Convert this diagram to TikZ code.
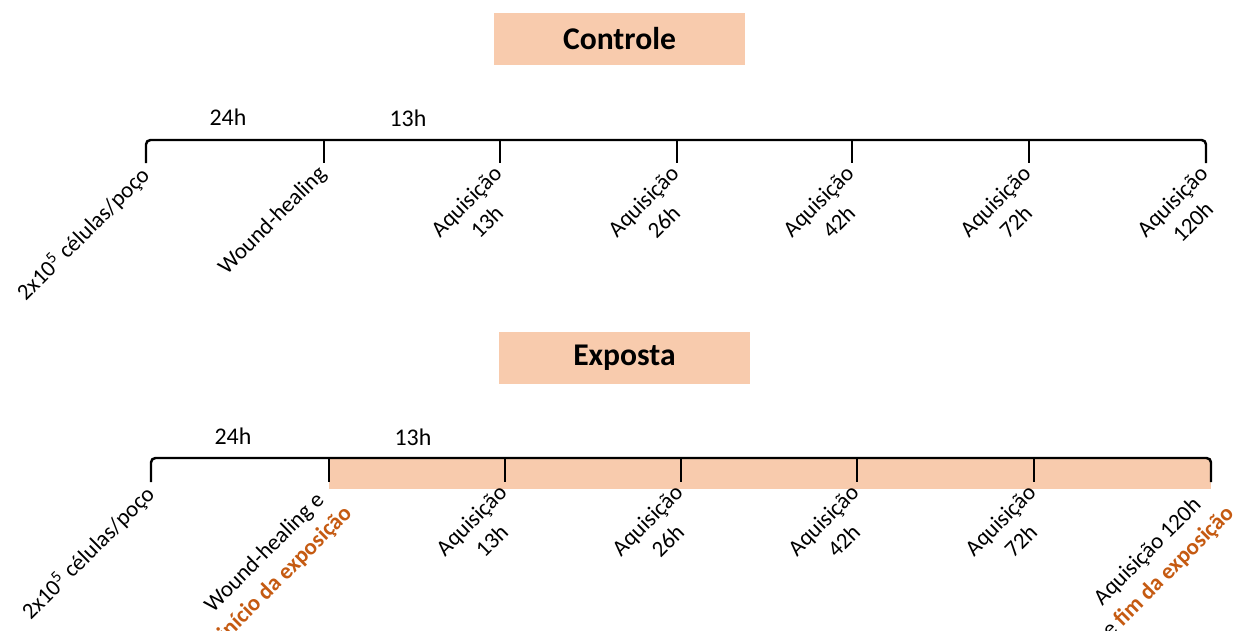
\documentclass[tikz,border=0pt]{standalone}
\usepackage{fontspec}
\setmainfont{Carlito}
\usetikzlibrary{positioning}
\definecolor{pessego}{HTML}{F8CBAD}
\definecolor{laranja}{HTML}{C55A11}

\begin{document}
\begin{tikzpicture}[x=0.02cm, y=-0.02cm,
  linha/.style={line width=1.4pt, rounded corners=2.5pt},
  marca/.style={line width=1.3pt},
  titulo/.style={fill=pessego, minimum width=5.02cm, minimum height=1.04cm,
    font=\fontsize{18}{20}\selectfont\bfseries},
  tempo/.style={font=\fontsize{13.6}{16}\selectfont},
  rotulo/.style={rotate=45, anchor=north east, align=center, inner sep=1pt,
    font=\fontsize{13}{16.5}\selectfont}]
  \useasboundingbox (0,0) rectangle (1244,630);

  % Controle
  \node[titulo] (tcontrole) at (619.5,39) {Controle};
  \foreach \i/\x in {0/146,1/324,2/500,3/677,4/852,5/1029,6/1206}{
    \coordinate (c\i) at (\x,140);
    \coordinate (cb\i) at (\x,163);
    \coordinate (cr\i) at (\x-8,161);
  }
  \draw[linha] (cb0) -- (c0) -- (c6) -- (cb6);
  \foreach \i in {1,...,5} \draw[marca] (c\i) -- (cb\i);
  \node[tempo] (c24) at (228,117) {24h};
  \node[tempo] (c13) at (408,118) {13h};
  \node[rotulo] (cl0) at (cr0) {2x10\textsuperscript{5} células/poço};
  \node[rotulo] (cl1) at (cr1) {Wound-healing};
  \node[rotulo] (cl2) at (cr2) {Aquisição\\13h};
  \node[rotulo] (cl3) at (cr3) {Aquisição\\26h};
  \node[rotulo] (cl4) at (cr4) {Aquisição\\42h};
  \node[rotulo] (cl5) at (cr5) {Aquisição\\72h};
  \node[rotulo] (cl6) at (cr6) {Aquisição\\120h};

  % Exposta
  \node[titulo] (texposta) at (624.5,358) {Exposta};
  \foreach \i/\x in {0/151,1/329,2/505,3/681,4/857,5/1034,6/1211}{
    \coordinate (e\i) at (\x,458);
    \coordinate (eb\i) at (\x,482);
    \coordinate (er\i) at (\x-8,480);
  }
  \coordinate (efim) at (1211,489);
  \fill[pessego] (e1) rectangle (efim);
  \draw[linha] (eb0) -- (e0) -- (e6) -- (eb6);
  \foreach \i in {1,...,5} \draw[marca] (e\i) -- (eb\i);
  \node[tempo] (e24) at (233,436) {24h};
  \node[tempo] (e13) at (413,437) {13h};
  \node[rotulo] (el0) at (er0) {2x10\textsuperscript{5} células/poço};
  \node[rotulo] (el1) at (er1) {Wound-healing e\\\textcolor{laranja}{\bfseries início da exposição}};
  \node[rotulo] (el2) at (er2) {Aquisição\\13h};
  \node[rotulo] (el3) at (er3) {Aquisição\\26h};
  \node[rotulo] (el4) at (er4) {Aquisição\\42h};
  \node[rotulo] (el5) at (er5) {Aquisição\\72h};
  \node[rotulo] (el6) at (er6) {Aquisição 120h\\e \textcolor{laranja}{\bfseries fim da exposição}};
\end{tikzpicture}
\end{document}
